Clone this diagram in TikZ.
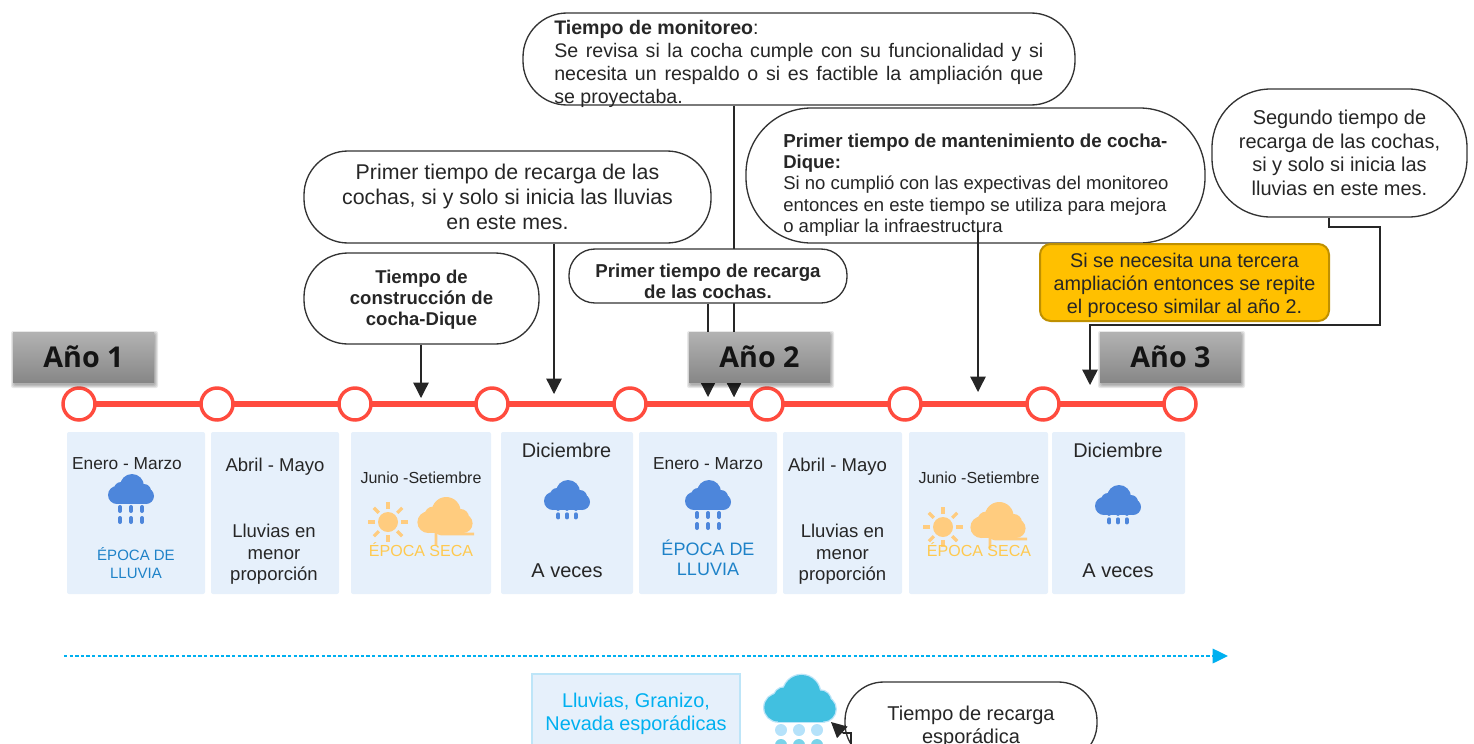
\documentclass[tikz,border=0pt]{standalone}
\usepackage{fontspec}
\setmainfont{Liberation Sans}
\newfontfamily\yearfont{Open Sans}
\usetikzlibrary{arrows.meta}
\newcommand\fsz[2]{\fontsize{#1}{#2}\selectfont}
\newcommand\jl[1]{\makebox[366.75pt][s]{#1}}
\newcommand\yearshadow[2]{%
  \foreach \g in {0,1,2,3}{
    \fill[black,opacity=.09,rounded corners=1.5pt]
      ({#1-70.5+1-\g},{#2-25+2-\g}) rectangle ({#1+70.5+1+\g},{#2+25+3+\g});
  }}
\definecolor{ink}{HTML}{262626}
\definecolor{edge}{HTML}{333333}
\definecolor{tl}{HTML}{FF4B3E}
\definecolor{panelc}{HTML}{E6F0FB}
\definecolor{rainb}{HTML}{4D86DB}
\definecolor{sunc}{HTML}{FFCC7F}
\definecolor{secac}{HTML}{FFC94F}
\definecolor{lluv}{HTML}{1E82C8}
\definecolor{skyb}{HTML}{00B0F0}
\definecolor{cloudb}{HTML}{41C0E0}
\definecolor{cloudl}{HTML}{BDE5F8}
\definecolor{dropl}{HTML}{B5E2FA}
\definecolor{orafill}{HTML}{FFC000}
\definecolor{oraedge}{HTML}{BF9000}
\tikzset{
  x=0.75pt,y=-0.75pt,
  bubble/.style={draw=edge,fill=white,line width=1pt,inner sep=0pt,text=ink,align=center},
  body/.style={inner sep=0pt,text=ink,align=center},
  lefttxt/.style={inner sep=0pt,text=ink,align=left,anchor=west},
  panel/.style={fill=panelc,rounded corners=1.5pt},
  conn/.style={draw=ink,line width=1pt,-{Triangle[length=11.5pt,width=11.5pt]}},
  yearbox/.style={top color=black!30,bottom color=black!47,draw=none,inner sep=0pt,
    minimum width=105.75pt,minimum height=37.5pt,text=black!92,
    font=\yearfont\bfseries\fsz{21.5}{26}},
  stop/.style={circle,draw=tl,fill=white,line width=2.6pt,minimum size=24pt,inner sep=0pt},
  pics/cloudshape/.style={code={
    \path[#1] (1,12) circle (12);
    \path[#1] (-14,21) circle (9);
    \path[#1] (15,22) circle (8);
    \path[#1] (-10,15) circle (7);
    \path[#1] (13,17) circle (7);
    \path[#1] (-14,12) rectangle (15,30);
  }},
  pics/cloudfill/.style={code={
    \fill[#1] (1,12) circle (12);
    \fill[#1] (-14,21) circle (9);
    \fill[#1] (15,22) circle (8);
    \fill[#1] (-10,15) circle (7);
    \fill[#1] (13,17) circle (7);
    \fill[#1] (-14,14) rectangle (15,30);
  }},
  pics/raincloud/.style={code={
    \pic {cloudfill=rainb};
    \foreach \dx in {-11,0,11}{
      \draw[rainb,line width=3pt,line cap=round] (\dx,33) -- (\dx,37) (\dx,44) -- (\dx,48);
    }
  }},
  pics/suncloud/.style={code={
    \fill[sunc] (0,0) circle (10);
    \foreach \a in {0,45,...,315}{
      \draw[sunc,line width=2.4pt] (\a:13) -- (\a:20);
    }
  }},
  wind/.style={draw=sunc,line width=2.2pt}
}
\begin{document}
\begin{tikzpicture}
\useasboundingbox (0,0) rectangle (1474,743);
\clip (0,0) rectangle (1474,743);

% panels
\fill[panel] (67,432) rectangle (205,594);
\fill[panel] (211,432) rectangle (339,594);
\fill[panel] (351,432) rectangle (491,594);
\fill[panel] (501,432) rectangle (633,594);
\fill[panel] (639,432) rectangle (777,594);
\fill[panel] (783,432) rectangle (902,594);
\fill[panel] (909,432) rectangle (1048,594);
\fill[panel] (1052,432) rectangle (1185,594);

% timeline
\draw[tl,line width=5pt] (79,404) -- (1180,404);
\foreach \n/\px in {s1/79,s2/217,s3/355,s4/492,s5/630,s6/767,s7/905,s8/1043,s9/1180}{
  \node[stop] (\n) at (\px,404) {};
}

% connector ends
\coordinate (t1) at (421,398);
\coordinate (t2) at (554,394);
\coordinate (t3) at (734,397);
\coordinate (t4) at (708,397);
\coordinate (t5) at (978,392);
\coordinate (m5) at (978,230);
\coordinate (t6) at (1090,385);
\coordinate (b6a) at (1329,227);
\coordinate (b6b) at (1380,227);
\coordinate (b6c) at (1380,325);
\coordinate (b6d) at (1090,325);

% bubbles
\node[bubble,minimum width=414pt,minimum height=69pt,rounded corners=33pt] (mon) at (799,59) {};
\node[bubble,minimum width=305.25pt,minimum height=69pt,rounded corners=33pt,font=\fsz{16}{18.9}] (rec) at (507.5,197) {Primer tiempo de recarga de las\\cochas, si y solo si inicia las lluvias\\en este mes.};
\node[bubble,minimum width=176.25pt,minimum height=68.25pt,rounded corners=33pt] (con) at (421.5,298.5) {};
\node[body,font=\bfseries\fsz{13.9}{15.9}] (contx) at (421.5,299.5) {Tiempo de\\construcción de\\cocha-Dique};
\node[bubble,minimum width=344.25pt,minimum height=101.25pt,rounded corners=49pt] (man) at (975.5,175.5) {};
\node[bubble,minimum width=191.25pt,minimum height=96pt,rounded corners=44pt,font=\fsz{15}{17.6}] (seg) at (1339.5,153) {Segundo tiempo de\\recarga de las cochas,\\si y solo si inicia las\\lluvias en este mes.};
\node[bubble,draw=oraedge,line width=1.5pt,fill=orafill,minimum width=216.75pt,minimum height=57.75pt,rounded corners=8pt] (ora) at (1184.5,282.5) {};
\node[body,font=\fsz{14.85}{17.25}] (oratx) at (1184.5,285.5) {Si se necesita una tercera\\ampliación entonces se repite\\el proceso similar al año 2.};

% connectors behind the small bubble and the year boxes
\draw[conn] (t3 |- mon.south) -- (t3);
\node[bubble,minimum width=208.5pt,minimum height=40.5pt,rounded corners=19.5pt] (pri) at (708,276) {};
\draw[conn] (t1 |- con.south) -- (t1);
\draw[conn] (t2 |- rec.south) -- (t2);
\draw[conn] (t4 |- pri.south) -- (t4);
\draw[conn] (t3 |- pri.south) -- (t3);
\draw[conn] (m5) -- (t5);
\draw[conn] (b6a |- seg.south) -- (b6a) -- (b6b) -- (b6c) -- (b6d) -- (t6);

% bubble texts
\node[lefttxt,font=\fsz{14.7}{17.25}] (montx) at (554,64) {\textbf{Tiempo de monitoreo}:\\\jl{Se revisa si la cocha cumple con su funcionalidad y si}\\\jl{necesita un respaldo o si es factible la ampliación que}\\se proyectaba.};
\node[lefttxt,font=\fsz{13.9}{15.9}] (mantx) at (783,185) {\textbf{\fsz{14.05}{15.9}Primer tiempo de mantenimiento de cocha-}\\\textbf{Dique:}\\Si no cumplió con las expectivas del monitoreo\\entonces en este tiempo se utiliza para mejora\\o ampliar la infraestructura};
\node[body,font=\bfseries\fsz{14}{15.9}] (pritx) at (708,281.5) {Primer tiempo de recarga\\de las cochas.};

% year labels
\yearshadow{83.5}{357}
\yearshadow{759.5}{357}
\yearshadow{1170.5}{357}
\node[yearbox] (y1) at (83.5,357) {Año 1};
\node[yearbox] (y2) at (759.5,357) {Año 2};
\node[yearbox] (y3) at (1170.5,357) {Año 3};

% panel 1
\node[body,font=\fsz{13}{16}] (p1a) at (127,464) {Enero - Marzo};
\pic at (131,474) {raincloud};
\node[body,text=lluv,font=\fsz{11.25}{13.7}] (p1b) at (136,563) {ÉPOCA DE\\LLUVIA};
% panel 2
\node[body,font=\fsz{13.9}{16}] (p2a) at (275,467) {Abril - Mayo};
\node[body,font=\fsz{13.9}{16.1}] (p2b) at (274,554.5) {Lluvias en\\menor\\proporción};
% panel 3
\node[body,font=\fsz{12}{14}] (p3a) at (421,478) {Junio -Setiembre};
\pic at (388,522) {suncloud};
\pic[scale=1.2] at (445,497) {cloudfill=sunc};
\draw[wind] (474,534) -- (442,534) arc[start angle=90,end angle=180,radius=6] -- (436,545);
\node[body,text=secac,font=\fsz{12}{14}] (p3b) at (421,550) {ÉPOCA SECA};
% panel 4
\node[body,font=\fsz{14.9}{18}] (p4a) at (566.5,450) {Diciembre};
\pic[scale=.78] at (567,480) {raincloud};
\node[body,font=\fsz{15}{18}] (p4b) at (567,570.5) {A veces};
% panel 5
\node[body,font=\fsz{13}{16}] (p5a) at (708,464) {Enero - Marzo};
\pic at (708,480) {raincloud};
\node[body,text=lluv,font=\fsz{13.5}{15}] (p5b) at (708,558) {ÉPOCA DE\\LLUVIA};
% panel 6
\node[body,font=\fsz{13.9}{16}] (p6a) at (837.5,467) {Abril - Mayo};
\node[body,font=\fsz{13.9}{16.1}] (p6b) at (842.5,554.5) {Lluvias en\\menor\\proporción};
% panel 7
\node[body,font=\fsz{12}{14}] (p7a) at (979,478) {Junio -Setiembre};
\pic at (943,527) {suncloud};
\pic[scale=1.2] at (998,502) {cloudfill=sunc};
\draw[wind] (1027,539) -- (996,539) arc[start angle=90,end angle=180,radius=6] -- (990,548);
\node[body,text=secac,font=\fsz{12}{14}] (p7b) at (979,550) {ÉPOCA SECA};
% panel 8
\node[body,font=\fsz{14.9}{18}] (p8a) at (1118,450) {Diciembre};
\pic[scale=.78] at (1118,485) {raincloud};
\node[body,font=\fsz{15}{18}] (p8b) at (1118,570.5) {A veces};

% dashed arrow
\coordinate (d1) at (64,656);
\coordinate (d2) at (1228,656);
\draw[skyb,line width=1pt,dash pattern=on 2.6pt off 1.6pt,-{Triangle[length=11.5pt,width=11pt]}] (d1) -- (d2);

% bottom row
\node[draw=cloudl,fill=panelc,line width=2.2pt,minimum width=156pt,minimum height=54.75pt,inner sep=0pt] (llu) at (636,710.5) {};
\node[body,text=skyb,font=\fsz{14.9}{17}] (llutx) at (636,714) {Lluvias, Granizo,\\Nevada esporádicas};
\pic[scale=1.55] at (800,675) {cloudshape={draw=cloudl,line width=2pt}};
\pic[scale=1.55] at (800,675) {cloudfill=cloudb};
\foreach \dx in {781,799,817}{
  \fill[dropl] (\dx,730) circle (6);
  \fill[cloudb!70] (\dx,745) circle (6);
}
\node[bubble,minimum width=189pt,minimum height=60pt,rounded corners=29pt] (bot) at (971,722) {};
\coordinate (a1) at (851,750);
\coordinate (a2) at (851,733);
\coordinate (a3) at (843,733);
\coordinate (a4) at (831,722);
\draw[draw=ink,line width=1pt] (a1) -- (a2) -- (a3);
\draw[conn] (a3) -- (a4);
\node[body,font=\fsz{15}{17.25}] (bottx) at (971,726.5) {Tiempo de recarga\\esporádica};
\end{tikzpicture}
\end{document}
